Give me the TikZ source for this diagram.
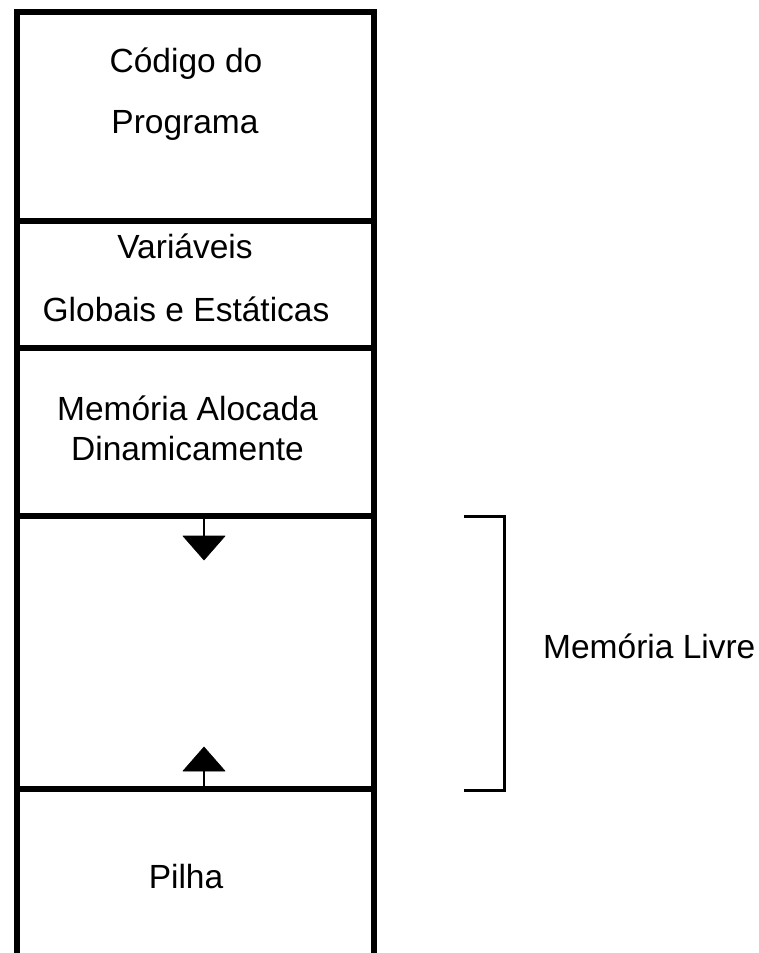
\documentclass[tikz,border=0pt]{standalone}
\usepackage{fontspec}
\setmainfont{Liberation Sans}
\begin{document}
\begin{tikzpicture}[x=1pt,y=-1pt,
  lbl/.style={anchor=base,inner sep=0pt,font=\fontsize{33.5}{40}\selectfont},
  wall/.style={line width=6.5pt},
  stem/.style={line width=2.6pt},
  tri/.style={fill=black,draw=black,line width=0.6pt,line join=round},
  brk/.style={line width=3pt}]
\useasboundingbox[fill=white] (0,0) rectangle (759,953);
% column
\coordinate (tl) at (17,12);
\coordinate (tr) at (374,12);
\coordinate (bl) at (17,953);
\coordinate (br) at (374,953);
\coordinate (d1l) at (17,221);  \coordinate (d1r) at (374,221);
\coordinate (d2l) at (17,348);  \coordinate (d2r) at (374,348);
\coordinate (d3l) at (17,516);  \coordinate (d3r) at (374,516);
\coordinate (d4l) at (17,789);  \coordinate (d4r) at (374,789);
\draw[wall,line cap=rect] (bl) -- (tl) -- (tr) -- (br);
\draw[wall] (d1l) -- (d1r);
\draw[wall] (d2l) -- (d2r);
\draw[wall] (d3l) -- (d3r);
\draw[wall] (d4l) -- (d4r);
% labels
\node[lbl] (c1) at (186,72) {Código do};
\node[lbl] (c2) at (185,133.5) {Programa};
\node[lbl] (v1) at (185,258) {Variáveis};
\node[lbl] (v2) at (186,321.5) {Globais e Estáticas};
\node[lbl] (m1) at (187.5,420) {Memória Alocada};
\node[lbl] (m2) at (187.5,460) {Dinamicamente};
\node[lbl] (p) at (186,888) {Pilha};
\node[lbl,anchor=base west] (ml) at (543,658) {Memória Livre};
% arrows
\coordinate (a1s) at (204,516);
\coordinate (a1e) at (204,537);
\coordinate (a2s) at (204,789);
\coordinate (a2e) at (204,770);
\draw[stem] (a1s) -- (a1e);
\fill[tri] (183,536) -- (225,536) -- (204,560) -- cycle;
\draw[stem] (a2s) -- (a2e);
\fill[tri] (183,771) -- (225,771) -- (204,747) -- cycle;
% bracket
\coordinate (b1) at (464,516);
\coordinate (b2) at (504,516);
\coordinate (b3) at (504,790);
\coordinate (b4) at (464,790);
\draw[brk] (b1) -- (b2) -- (b3) -- (b4);
\end{tikzpicture}
\end{document}
